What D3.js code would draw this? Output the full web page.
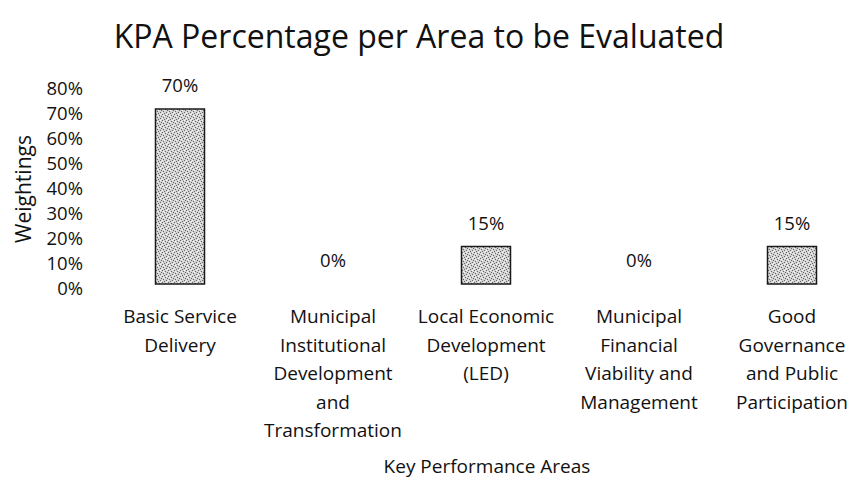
<!DOCTYPE html>
<html>
<head>
<meta charset="utf-8">
<script src="https://cdn.jsdelivr.net/npm/d3@7"></script>
<style>
  body { margin: 0; background: #fff; }
  svg text { font-family: "Open Sans", "Noto Sans", sans-serif; fill: #111; }
</style>
</head>
<body>
<div id="chart"></div>
<script>
// chart data
const categories = [
    ["Basic Service", "Delivery"],
    ["Municipal", "Institutional", "Development", "and", "Transformation"],
    ["Local Economic", "Development", "(LED)"],
    ["Municipal", "Financial", "Viability and", "Management"],
    ["Good", "Governance", "and Public", "Participation"]
];
const weights = [0.70, 0, 0.15, 0, 0.15];
const yTicks = [0, 0.1, 0.2, 0.3, 0.4, 0.5, 0.6, 0.7, 0.8];

const W = 855, H = 478;
const svg = d3.select("#chart").append("svg")
    .attr("width", W).attr("height", H);

// stippled grey fill, like the printed original
const defs = svg.append("defs");
const pat = defs.append("pattern")
    .attr("id", "stipple")
    .attr("patternUnits", "userSpaceOnUse")
    .attr("width", 6).attr("height", 6);
pat.append("rect").attr("width", 6).attr("height", 6).attr("fill", "#d2d2d2");
[[0, 0], [3, 1], [1, 3], [4, 4], [2, 5], [5, 2]].forEach(function (p) {
    pat.append("rect").attr("x", p[0]).attr("y", p[1])
        .attr("width", 1).attr("height", 1).attr("fill", "#666");
});
[[1, 1], [4, 0], [0, 4], [5, 5], [2, 2]].forEach(function (p) {
    pat.append("rect").attr("x", p[0]).attr("y", p[1])
        .attr("width", 1).attr("height", 1).attr("fill", "#f4f4f4");
});

const x = d3.scalePoint()
    .domain(d3.range(categories.length))
    .range([180, 792]);
const barW = 49;

const y = d3.scaleLinear()
    .domain([0, 0.8])
    .range([284, 84]);

// title
svg.append("text")
    .attr("x", 419).attr("y", 48)
    .attr("text-anchor", "middle")
    .style("font-size", "32px")
    .text("KPA Percentage per Area to be Evaluated");

// y axis (labels only)
const yAxis = svg.append("g")
    .attr("transform", "translate(83,0)")
    .call(d3.axisLeft(y).tickValues(yTicks).tickFormat(d3.format(".0%")).tickSize(0).tickPadding(0));
yAxis.select(".domain").remove();
yAxis.selectAll("text")
    .attr("dy", "0.55em")
    .style("font-size", "18.5px")
    .style("font-family", "'Open Sans', 'Noto Sans', sans-serif")
    .attr("fill", "#111");

svg.append("text")
    .attr("transform", "translate(31,189) rotate(-90)")
    .attr("text-anchor", "middle")
    .style("font-size", "21px")
    .text("Weightings");

// bars
svg.selectAll(".bar")
    .data(weights)
    .join("rect")
    .attr("class", "bar")
    .attr("x", function (d, i) { return x(i) - barW / 2; })
    .attr("y", function (d) { return y(d); })
    .attr("width", barW)
    .attr("height", function (d) { return y(0) - y(d); })
    .attr("fill", "url(#stipple)")
    .attr("stroke", "#1a1a1a")
    .attr("stroke-width", 1.5)
    .style("display", function (d) { return d > 0 ? null : "none"; });

// value labels
svg.selectAll(".val")
    .data(weights)
    .join("text")
    .attr("class", "val")
    .attr("x", function (d, i) { return x(i); })
    .attr("y", function (d) { return y(d) - 17; })
    .attr("text-anchor", "middle")
    .style("font-size", "18.5px")
    .text(function (d) { return d3.format(".0%")(d); });

// category labels
const cat = svg.selectAll(".cat")
    .data(categories)
    .join("text")
    .attr("class", "cat")
    .attr("text-anchor", "middle")
    .style("font-size", "19px");
cat.each(function (lines, i) {
    d3.select(this).selectAll("tspan")
        .data(lines)
        .join("tspan")
        .attr("x", x(i))
        .attr("y", function (d, j) { return 323 + j * 28.5; })
        .text(function (d) { return d; });
});

// x axis title
svg.append("text")
    .attr("x", 487).attr("y", 473)
    .attr("text-anchor", "middle")
    .style("font-size", "19px")
    .text("Key Performance Areas");
</script>
</body>
</html>
